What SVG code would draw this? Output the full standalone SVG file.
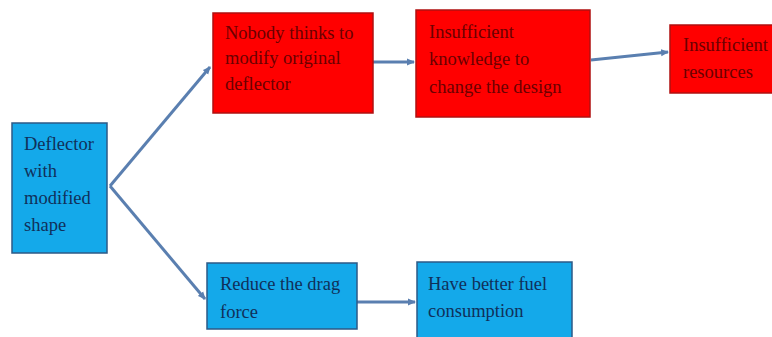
<svg xmlns="http://www.w3.org/2000/svg" width="772" height="337" viewBox="0 0 772 337">
<defs>
<marker id="ah" markerWidth="8" markerHeight="8" refX="7" refY="4" orient="auto" markerUnits="userSpaceOnUse">
<path d="M0,0.5 L8,4 L0,7.5 Z" fill="#5a7fb0"/>
</marker>
</defs>
<style>
.red{fill:#ff0000;stroke:#b01010;stroke-width:1.5}
.blue{fill:#14a9ea;stroke:#2c5a86;stroke-width:1.5}
text{font-family:"Liberation Serif","Times New Roman",serif;font-size:18.5px}
.rt{fill:#6a0000}
.bt{fill:#10305a}
.conn{stroke:#5a7fb0;stroke-width:3;fill:none;marker-end:url(#ah)}
</style>
<rect width="772" height="337" fill="#ffffff"/>
<g id="connectors">
<path class="conn" d="M110,186 L210,67"/>
<path class="conn" d="M110,186 L205,299"/>
<path class="conn" d="M373,62 L414,62"/>
<path class="conn" d="M591,60 L668,52"/>
<path class="conn" d="M357,302 L415,302"/>
</g>
<g id="deflector">
<rect class="blue" x="12" y="123" width="95" height="130"/>
<text class="bt" x="24" y="150">Deflector</text>
<text class="bt" x="24" y="177">with</text>
<text class="bt" x="24" y="204">modified</text>
<text class="bt" x="24" y="231">shape</text>
</g>
<g id="nobody">
<rect class="red" x="213" y="13" width="160" height="100"/>
<text class="rt" x="225" y="39">Nobody thinks to</text>
<text class="rt" x="225" y="64">modify original</text>
<text class="rt" x="225" y="90">deflector</text>
</g>
<g id="knowledge">
<rect class="red" x="416" y="10" width="174" height="107"/>
<text class="rt" x="429" y="38">Insufficient</text>
<text class="rt" x="429" y="65">knowledge to</text>
<text class="rt" x="429" y="93">change the design</text>
</g>
<g id="resources">
<rect class="red" x="670" y="25" width="103" height="68"/>
<text class="rt" x="683" y="51">Insufficient</text>
<text class="rt" x="683" y="78">resources</text>
</g>
<g id="reduce">
<rect class="blue" x="207" y="263" width="150" height="66"/>
<text class="bt" x="220" y="290">Reduce the drag</text>
<text class="bt" x="220" y="318">force</text>
</g>
<g id="fuel">
<rect class="blue" x="417" y="262" width="155" height="78"/>
<text class="bt" x="428" y="290">Have better fuel</text>
<text class="bt" x="428" y="317">consumption</text>
</g>
</svg>
